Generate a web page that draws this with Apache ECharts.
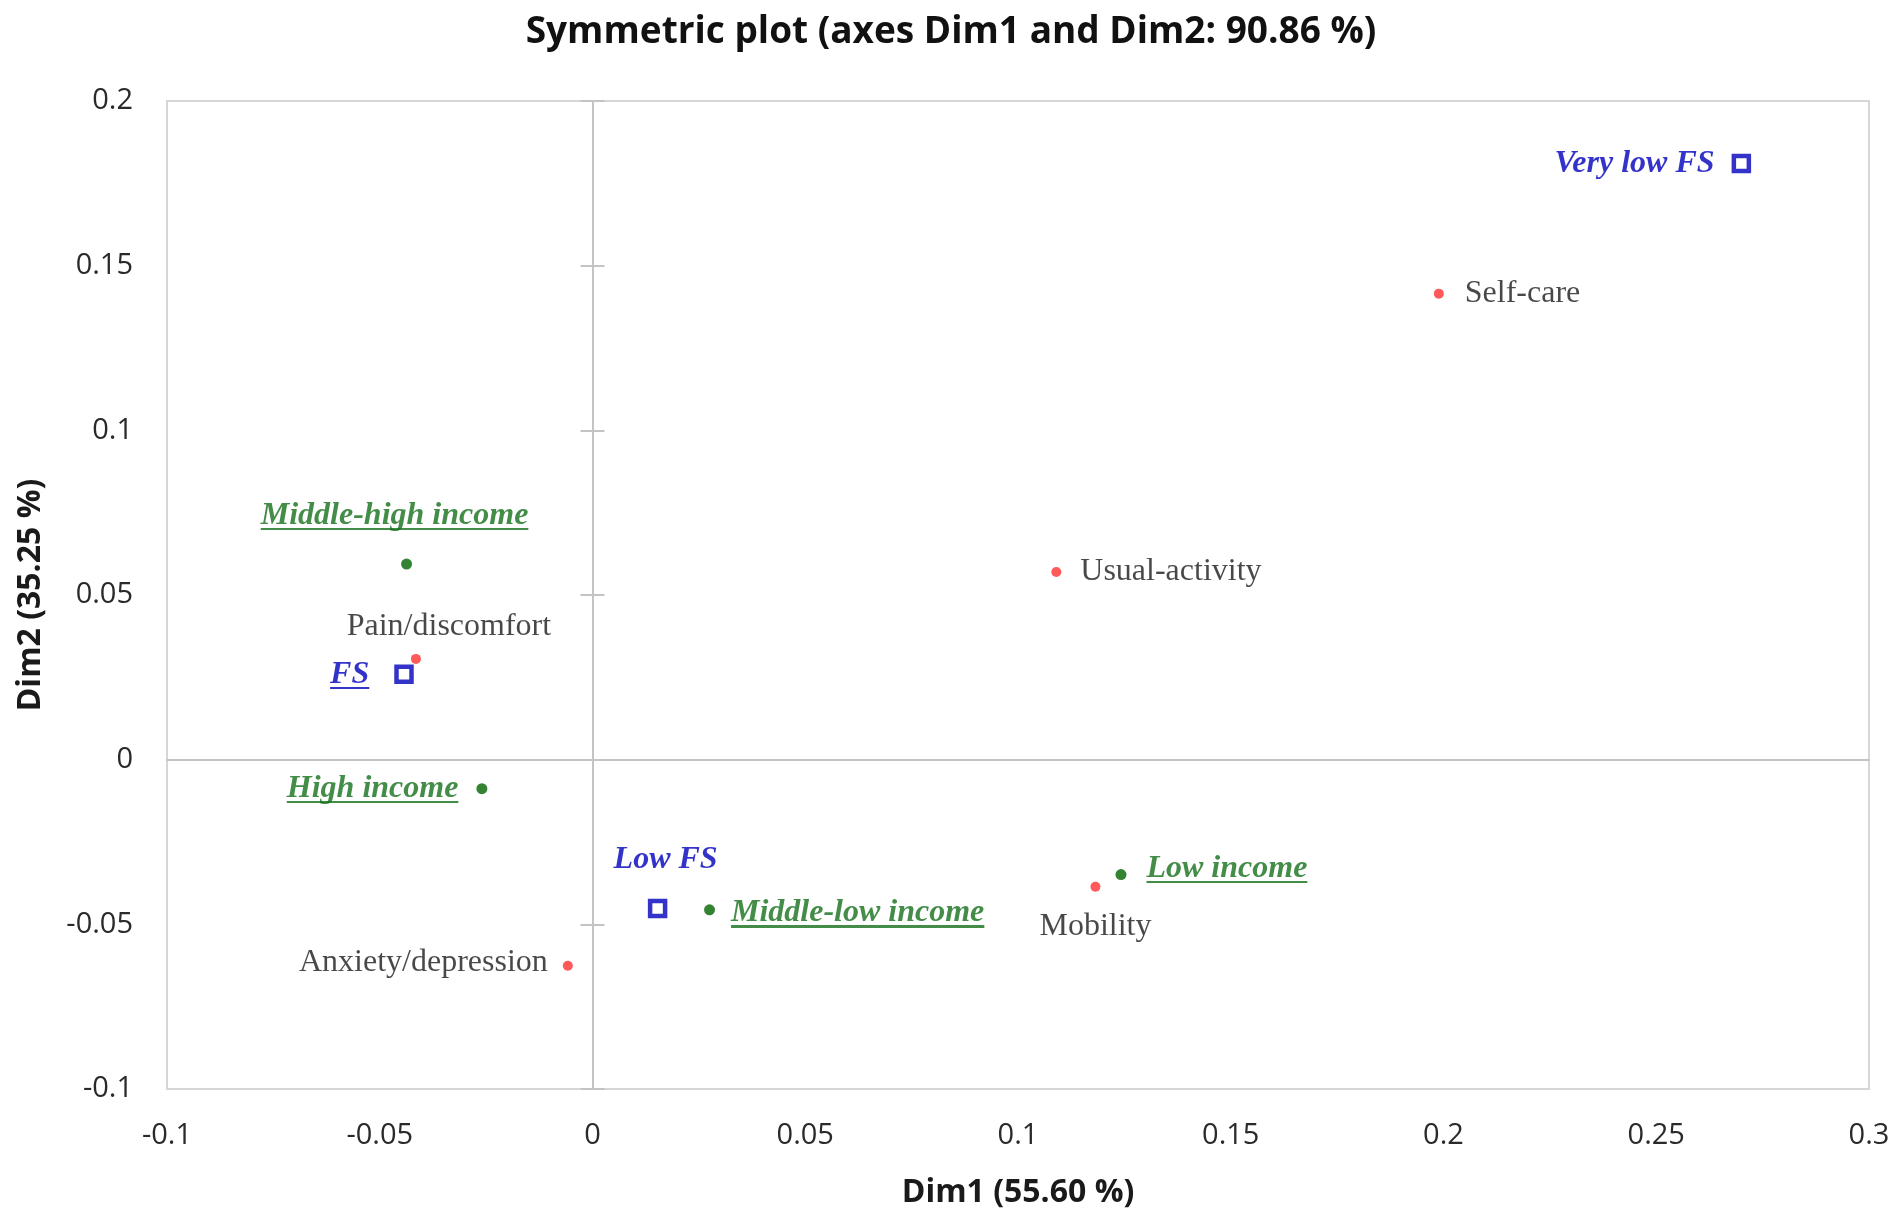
<!DOCTYPE html>
<html>
<head>
<meta charset="utf-8">
<title>Symmetric plot</title>
<script src="https://cdn.jsdelivr.net/npm/echarts@6/dist/echarts.min.js"></script>
<style>
  html, body { margin: 0; padding: 0; background: #fff; }
  #main { width: 1902px; height: 1224px; }
</style>
</head>
<body>
<div id="main"></div>
<script>
// food security levels (blue squares)
var fsNames = ['Very low FS', 'Low FS', 'FS'];
var fsDim1 = [0.270, 0.0153, -0.0443];
var fsDim2 = [0.181, -0.0452, 0.0259];

// income levels (green dots)
var incomeNames = ['High income', 'Middle-high income', 'Middle-low income', 'Low income'];
var incomeDim1 = [-0.026, -0.0437, 0.0275, 0.1242];
var incomeDim2 = [-0.0088, 0.0594, -0.0456, -0.0349];

// EQ-5D dimensions (red dots)
var eqNames = ['Mobility', 'Self-care', 'Usual-activity', 'Pain/discomfort', 'Anxiety/depression'];
var eqDim1 = [0.1182, 0.1989, 0.109, -0.0415, -0.0058];
var eqDim2 = [-0.0386, 0.1415, 0.057, 0.0306, -0.0626];

// axes
var xMin = -0.1, xMax = 0.3, yMin = -0.1, yMax = 0.2, step = 0.05;

var BLUE = '#0000bb';
var GREEN_DOT = '#006400';
var GREEN_TXT = '#14701a';
var RED = '#ff3030';
var SERIF = '"Liberation Serif", "Times New Roman", serif';
var SANS = '"Open Sans", "Noto Sans", sans-serif';

// where each label sits around its point
var labelPlace = {
  'Very low FS': { position: 'left', distance: 17 },
  'Low FS': { position: 'top', distance: 20, offset: [8, 0] },
  'FS': { position: 'left', distance: 25 },
  'High income': { position: 'left', distance: 18 },
  'Middle-high income': { position: 'top', distance: 24, offset: [-12, 0] },
  'Middle-low income': { position: 'right', distance: 16, offset: [0, 3] },
  'Low income': { position: 'right', distance: 20, offset: [0, -6] },
  'Mobility': { position: 'bottom', distance: 16 },
  'Self-care': { position: 'right', distance: 21 },
  'Usual-activity': { position: 'right', distance: 19 },
  'Pain/discomfort': { position: 'inside', offset: [33, -32] },
  'Anxiety/depression': { position: 'left', distance: 15, offset: [0, -3] }
};
var underlined = { 'FS': true, 'High income': true, 'Middle-high income': true, 'Middle-low income': true, 'Low income': true };

function underlineBg(color) {
  return new echarts.graphic.LinearGradient(0, 0, 0, 1, [
    { offset: 0, color: 'rgba(0,0,0,0)' },
    { offset: 0.88, color: 'rgba(0,0,0,0)' },
    { offset: 0.88, color: color },
    { offset: 0.96, color: color },
    { offset: 0.96, color: 'rgba(0,0,0,0)' },
    { offset: 1, color: 'rgba(0,0,0,0)' }
  ]);
}

function buildPoints(names, d1, d2, txtColor, italicBold) {
  var out = [];
  for (var i = 0; i < names.length; i++) {
    var p = labelPlace[names[i]] || { position: 'right', distance: 10 };
    var txt = {
      color: txtColor,
      fontFamily: SERIF,
      fontSize: 32,
      lineHeight: 38,
      fontStyle: italicBold ? 'italic' : 'normal',
      fontWeight: italicBold ? 'bold' : 'normal'
    };
    if (underlined[names[i]]) txt.backgroundColor = underlineBg(txtColor);
    out.push({
      name: names[i],
      value: [d1[i], d2[i]],
      label: {
        show: true,
        position: p.position,
        distance: p.distance || 0,
        offset: p.offset || [0, 0],
        formatter: '{t|{b}}',
        rich: { t: txt }
      }
    });
  }
  return out;
}

var chart = echarts.init(document.getElementById('main'));

var hiddenAxis = {
  min: yMin, max: yMax, interval: step,
  axisLabel: { show: false }, splitLine: { show: false }
};

chart.setOption({
  backgroundColor: '#fff',
  animation: false,
  title: {
    text: 'Symmetric plot (axes Dim1 and Dim2: 90.86 %)',
    left: 'center',
    top: 9,
    textStyle: { fontFamily: SANS, fontSize: 37, fontWeight: 'bold', color: '#111' }
  },
  grid: [
    { left: 167, right: 33, top: 101, bottom: 135, show: true, borderColor: '#d6d6d6', borderWidth: 2 },
    { left: 167, right: 33, top: 101, bottom: 135 }
  ],
  xAxis: [
    {
      type: 'value', gridIndex: 0, min: xMin, max: xMax, interval: step,
      name: 'Dim1 (55.60 %)', nameLocation: 'middle', nameGap: 88,
      nameTextStyle: { fontFamily: SANS, fontSize: 32, fontWeight: 'bold', color: '#1a1a1a' },
      axisLine: { show: false, onZero: false },
      axisTick: { show: false },
      axisLabel: { margin: 32, fontFamily: SANS, fontSize: 29, color: '#2a2a2a' },
      splitLine: { show: false }
    },
    {
      // horizontal zero line
      type: 'value', gridIndex: 0, position: 'top', min: xMin, max: xMax, interval: step,
      axisLine: { show: true, onZero: true, lineStyle: { color: '#c4c4c4', width: 2 } },
      axisTick: { show: false }, axisLabel: { show: false }, splitLine: { show: false }
    },
    {
      type: 'value', gridIndex: 1, min: xMin, max: xMax, interval: step, show: false
    }
  ],
  yAxis: [
    {
      type: 'value', gridIndex: 0, min: yMin, max: yMax, interval: step,
      name: 'Dim2 (35.25 %)', nameLocation: 'middle', nameGap: 120,
      nameTextStyle: { fontFamily: SANS, fontSize: 32, fontWeight: 'bold', color: '#1a1a1a' },
      axisLine: { show: false, onZero: false },
      axisTick: { show: false },
      axisLabel: { margin: 34, fontFamily: SANS, fontSize: 29, color: '#2a2a2a' },
      splitLine: { show: false }
    },
    Object.assign({}, hiddenAxis, {
      // vertical zero line, ticks to the right
      type: 'value', gridIndex: 0, position: 'right',
      axisLine: { show: true, onZero: true, lineStyle: { color: '#c4c4c4', width: 2 } },
      axisTick: { show: true, length: 12, lineStyle: { color: '#c4c4c4', width: 2 } }
    }),
    Object.assign({}, hiddenAxis, {
      // same line, ticks to the left
      type: 'value', gridIndex: 1, position: 'left',
      axisLine: { show: false, onZero: true },
      axisTick: { show: true, length: 12, lineStyle: { color: '#c4c4c4', width: 2 } }
    })
  ],
  series: [
    {
      name: 'Food security', type: 'scatter', xAxisIndex: 0, yAxisIndex: 0,
      symbol: 'rect', symbolSize: 15,
      itemStyle: { color: '#fff', borderColor: BLUE, borderWidth: 4.5 },
      data: buildPoints(fsNames, fsDim1, fsDim2, BLUE, true),
      z: 5
    },
    {
      name: 'Income', type: 'scatter', xAxisIndex: 0, yAxisIndex: 0,
      symbol: 'circle', symbolSize: 11,
      itemStyle: { color: GREEN_DOT },
      data: buildPoints(incomeNames, incomeDim1, incomeDim2, GREEN_TXT, true),
      z: 5
    },
    {
      name: 'EQ-5D', type: 'scatter', xAxisIndex: 0, yAxisIndex: 0,
      symbol: 'circle', symbolSize: 10,
      itemStyle: { color: RED },
      data: buildPoints(eqNames, eqDim1, eqDim2, '#1a1a1a', false),
      z: 5
    }
  ]
});
</script>
</body>
</html>
